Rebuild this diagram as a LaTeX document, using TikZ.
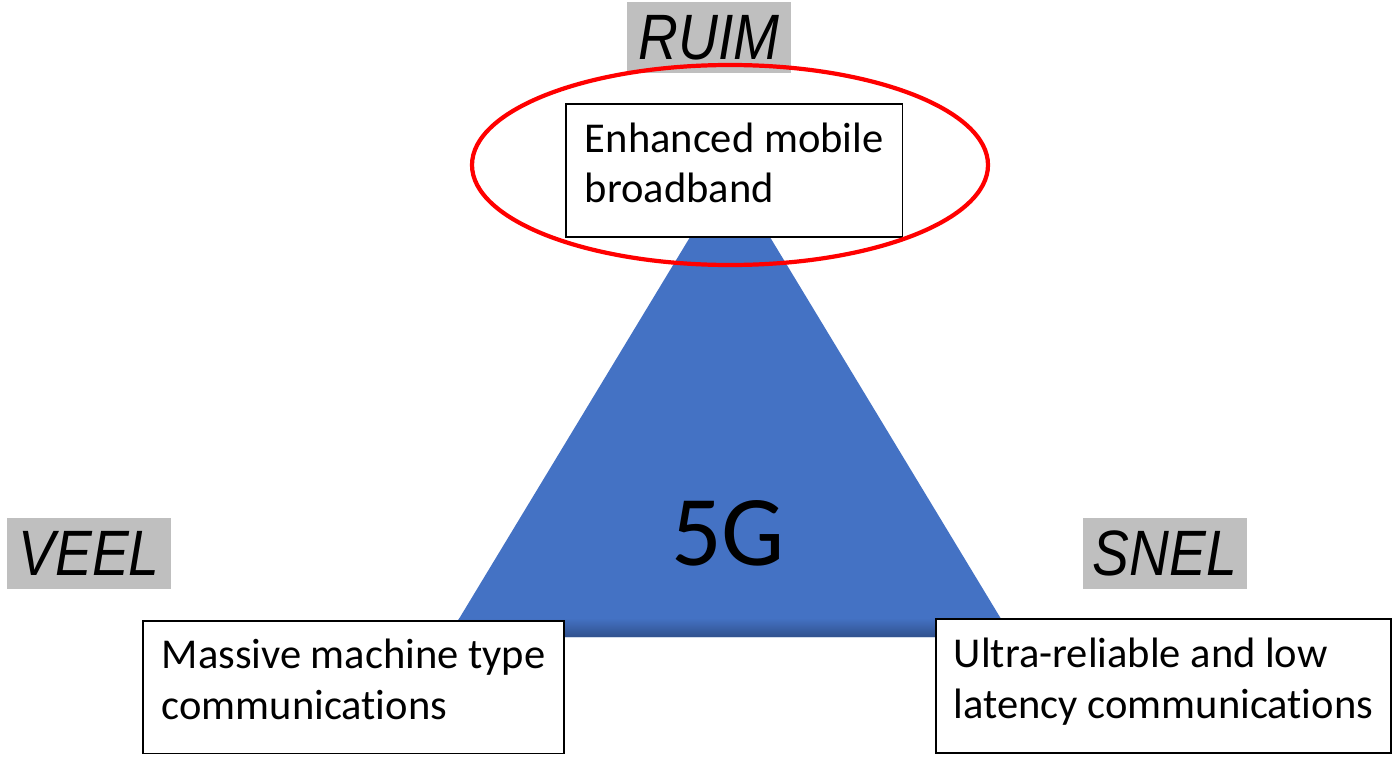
\documentclass[tikz,border=0pt]{standalone}
\usepackage{fontspec}
\usepackage{graphicx}
\setmainfont{Carlito}[Ligatures=NoCommon]
\newfontfamily\arialfont{Liberation Sans}
\usetikzlibrary{positioning,shapes}

\definecolor{tribl}{HTML}{4472C4}
\definecolor{tridark}{HTML}{2F4F8A}
\definecolor{tagfill}{HTML}{BFBFBF}

\newcommand{\tagtext}[1]{\scalebox{0.86}[1]{#1}}

\tikzset{
  usecase/.style={draw=black, line width=1pt, fill=white, anchor=north west,
    align=left, inner sep=0pt, text depth=9pt, font=\fontsize{24.2}{28.5}\selectfont},
  tag/.style={fill=tagfill, inner sep=0pt, minimum width=165*0.567pt, minimum height=72*0.567pt,
    font=\arialfont\itshape\fontsize{36.5}{36.5}\selectfont}
}

\begin{document}
\begin{tikzpicture}[x=0.02cm, y=-0.02cm]
\useasboundingbox (0,0) rectangle (1392,757);

% triangle
\coordinate (top) at (730,171);
\coordinate (bl) at (448,637);
\coordinate (br) at (1012,637);
\fill[tribl] (top)--(bl)--(br)--cycle;
\begin{scope}
\clip (top)--(bl)--(br)--cycle;
\shade[top color=tribl, bottom color=tridark] (440,618) rectangle (1020,638);
\end{scope}
\node (fiveG) at (728,533) {\fontsize{57}{57}\selectfont 5G};

% use cases
\node[usecase, minimum width=338*0.567pt, minimum height=134*0.567pt] (embb) at (565,103) {Enhanced mobile\\broadband};
\node[usecase, minimum width=423*0.567pt, minimum height=133*0.567pt] (mmtc) at (142,620) {Massive machine type\\communications};
\node[usecase, minimum width=457*0.567pt, minimum height=135*0.567pt] (urllc) at (935,618) {Ultra-reliable and low\\latency communications};

% tags
\node[tag] (ruim) at (709,37.5) {\tagtext{RUIM}};
\node[tag] (veel) at (89,553.5) {\tagtext{VEEL}};
\node[tag] (snel) at (1165,553.5) {\tagtext{SNEL}};

\draw[red, line width=2.4pt] (730,165) ellipse (258 and 100);
\end{tikzpicture}
\end{document}
